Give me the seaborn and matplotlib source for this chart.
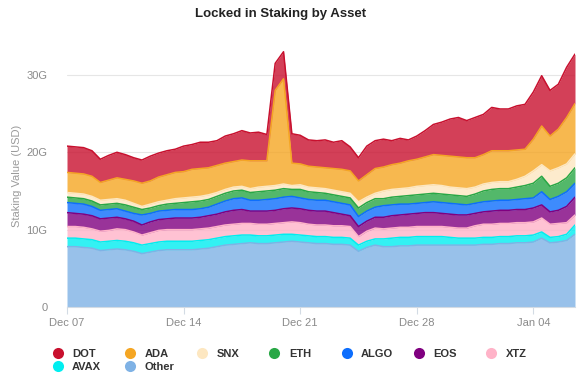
import numpy as np
import pandas as pd
import matplotlib
matplotlib.use('Agg')
import matplotlib.pyplot as plt
import matplotlib.dates as mdates
from matplotlib.lines import Line2D
import seaborn as sns

# ──────────────────────────────────────────────────────────────────────
# Data (USD billions, one reading every 12 hours from Dec 07)
# ──────────────────────────────────────────────────────────────────────
start_date = '2020-12-07'
n_points = 62

other = [7.8, 7.8, 7.7, 7.6, 7.3, 7.4, 7.5, 7.4, 7.2, 6.9, 7.1, 7.3, 7.4, 7.4, 7.4, 7.4,
         7.5, 7.6, 7.8, 8.0, 8.1, 8.2, 8.3, 8.2, 8.2, 8.3, 8.4, 8.5, 8.4, 8.3, 8.2, 8.2,
         8.1, 8.1, 8.0, 7.2, 7.7, 8.0, 7.8, 7.8, 7.9, 7.9, 8.0, 8.0, 8.0, 8.0, 8.0, 8.0,
         8.0, 8.0, 8.1, 8.1, 8.2, 8.2, 8.3, 8.3, 8.4, 8.9, 8.3, 8.4, 8.6, 9.4]
avax = [1.1, 1.1, 1.1, 1.1, 1.1, 1.1, 1.1, 1.1, 1.1, 1.1, 1.1, 1.1, 1.1, 1.1, 1.1, 1.1,
        1.1, 1.1, 1.1, 1.1, 1.1, 1.1, 1.0, 1.0, 1.0, 1.0, 1.0, 0.9, 0.9, 0.9, 0.9, 0.9,
        0.9, 0.9, 0.9, 0.8, 0.8, 0.8, 1.0, 1.1, 1.1, 1.1, 1.1, 1.1, 1.1, 1.1, 1.0, 0.9,
        0.9, 0.9, 0.9, 0.9, 0.9, 0.9, 0.9, 0.9, 0.9, 0.8, 0.7, 0.7, 0.8, 1.2]
xtz = [1.5, 1.5, 1.5, 1.4, 1.4, 1.4, 1.5, 1.5, 1.4, 1.3, 1.4, 1.5, 1.5, 1.5, 1.5, 1.5,
       1.5, 1.5, 1.5, 1.5, 1.5, 1.5, 1.5, 1.5, 1.5, 1.5, 1.5, 1.6, 1.6, 1.5, 1.5, 1.5,
       1.5, 1.5, 1.5, 1.1, 1.3, 1.4, 1.3, 1.3, 1.3, 1.3, 1.3, 1.3, 1.3, 1.3, 1.3, 1.3,
       1.3, 1.6, 1.7, 1.7, 1.7, 1.7, 1.7, 1.7, 1.7, 1.8, 1.7, 1.7, 1.5, 1.3]
eos = [1.8, 1.7, 1.7, 1.7, 1.6, 1.6, 1.5, 1.4, 1.4, 1.3, 1.4, 1.4, 1.4, 1.5, 1.5, 1.5,
       1.5, 1.6, 1.6, 1.7, 1.8, 1.8, 1.6, 1.7, 1.7, 1.7, 1.8, 1.8, 1.8, 1.8, 1.8, 1.8,
       1.7, 1.5, 1.4, 1.3, 1.3, 1.4, 1.5, 1.6, 1.6, 1.7, 1.7, 1.8, 1.8, 1.7, 1.7, 1.7,
       1.7, 1.6, 1.6, 1.7, 1.7, 1.7, 1.7, 1.7, 1.8, 1.7, 1.6, 1.7, 2.1, 2.3]
algo = [1.3, 1.3, 1.3, 1.2, 1.1, 1.1, 1.1, 1.0, 1.0, 1.3, 1.1, 1.1, 1.1, 1.1, 1.1, 1.1,
        1.1, 1.1, 1.3, 1.4, 1.5, 1.5, 1.4, 1.4, 1.5, 1.5, 1.5, 1.5, 1.4, 1.4, 1.4, 1.4,
        1.4, 1.4, 1.4, 1.3, 1.3, 1.3, 1.5, 1.4, 1.4, 1.3, 1.3, 1.3, 1.4, 1.4, 1.4, 1.4,
        1.3, 1.3, 1.3, 1.3, 1.3, 1.3, 1.3, 1.4, 1.3, 1.7, 1.6, 1.8, 1.9, 1.8]
eth = [0.7, 0.7, 0.7, 0.7, 0.7, 0.7, 0.7, 0.8, 0.8, 0.7, 0.7, 0.7, 0.8, 0.8, 0.9, 1.0,
       1.0, 1.0, 1.0, 1.0, 1.0, 1.0, 1.0, 1.1, 1.1, 1.1, 1.1, 0.9, 1.1, 1.0, 1.0, 0.9,
       0.9, 0.9, 0.9, 1.1, 1.1, 1.1, 0.9, 1.0, 1.0, 1.1, 1.1, 1.1, 1.1, 1.1, 1.1, 1.1,
       1.1, 1.2, 1.4, 1.5, 1.5, 1.5, 1.6, 1.7, 1.9, 2.0, 1.7, 1.7, 1.8, 2.0]
snx = [0.6, 0.6, 0.6, 0.6, 0.6, 0.6, 0.6, 0.6, 0.5, 0.4, 0.5, 0.5, 0.5, 0.6, 0.6, 0.6,
       0.6, 0.6, 0.5, 0.5, 0.5, 0.5, 0.5, 0.6, 0.6, 0.6, 0.6, 0.5, 0.6, 0.6, 0.6, 0.6,
       0.6, 0.6, 0.6, 0.8, 0.7, 0.7, 1.0, 1.0, 1.0, 1.0, 1.1, 1.1, 1.1, 1.1, 1.0, 1.0,
       1.0, 0.9, 0.9, 0.9, 0.9, 0.9, 1.0, 1.2, 1.6, 1.5, 2.0, 2.0, 1.8, 1.8]
ada = [2.6, 2.6, 2.6, 2.6, 2.3, 2.5, 2.7, 2.7, 2.9, 3.0, 3.0, 3.2, 3.3, 3.4, 3.4, 3.6,
       3.6, 3.5, 3.5, 3.4, 3.3, 3.4, 3.6, 3.4, 3.3, 12.3, 13.6, 2.9, 2.7, 2.7, 2.7, 2.7,
       2.8, 2.9, 2.9, 2.7, 2.9, 3.2, 3.1, 3.2, 3.3, 3.5, 3.5, 3.7, 3.9, 3.9, 4.0, 4.0,
       4.0, 3.8, 3.8, 4.1, 4.0, 4.0, 3.8, 3.5, 4.1, 5.0, 4.5, 5.0, 6.0, 6.5]
dot = [3.4, 3.4, 3.4, 3.3, 3.0, 3.2, 3.3, 3.2, 3.0, 3.0, 3.2, 3.1, 3.1, 3.0, 3.3, 3.2,
       3.4, 3.3, 3.2, 3.5, 3.6, 3.8, 3.6, 3.7, 3.4, 3.5, 3.5, 3.8, 3.7, 3.4, 3.4, 3.6,
       3.4, 3.7, 3.1, 3.0, 3.7, 3.6, 3.6, 3.1, 3.2, 2.7, 3.0, 3.4, 3.9, 4.3, 4.8, 5.1,
       4.8, 5.2, 5.2, 5.6, 5.4, 5.4, 5.7, 5.8, 6.1, 6.5, 5.9, 5.8, 6.5, 6.4]

# stacking order, bottom to top
assets = ['Other', 'AVAX', 'XTZ', 'EOS', 'ALGO', 'ETH', 'SNX', 'ADA', 'DOT']
series = [other, avax, xtz, eos, algo, eth, snx, ada, dot]

palette = {
    'DOT': '#c8102e',
    'ADA': '#f5a623',
    'SNX': '#fde7c1',
    'ETH': '#28a745',
    'ALGO': '#0d6efd',
    'EOS': '#800080',
    'XTZ': '#ffb3c8',
    'AVAX': '#00eef0',
    'Other': '#7fb2e5',
}

# legend order as in the reference (two rows)
legend_rows = [['DOT', 'ADA', 'SNX', 'ETH', 'ALGO', 'EOS', 'XTZ'],
               ['AVAX', 'Other']]

# ──────────────────────────────────────────────────────────────────────
# Build frames
# ──────────────────────────────────────────────────────────────────────
dates = pd.date_range(start_date, periods=n_points, freq='12h')
values = np.array(series)
tops = np.cumsum(values, axis=0)

long_df = pd.concat([
    pd.DataFrame({'date': dates, 'top': tops[i], 'asset': a})
    for i, a in enumerate(assets)
], ignore_index=True)

# ──────────────────────────────────────────────────────────────────────
# Plot
# ──────────────────────────────────────────────────────────────────────
sns.set_theme(style='white')
plt.rcParams['font.family'] = ['Liberation Sans', 'DejaVu Sans']

W, H = 583, 377
fig = plt.figure(figsize=(W / 100, H / 100), dpi=100)
ax = fig.add_axes([67 / W, 1 - 307 / H, (575 - 67) / W, (307 - 44) / H])

ax.stackplot(dates, values, colors=[palette[a] for a in assets],
             alpha=0.8, linewidth=0, zorder=2)
sns.lineplot(data=long_df, x='date', y='top', hue='asset', hue_order=assets,
             palette=palette, linewidth=1.1, legend=False, ax=ax, zorder=3)

ax.set_xlim(dates[0], dates[-1])
ax.set_ylim(0, 34)
ax.set_yticks([0, 10, 20, 30])
ax.set_yticklabels(['0', '10G', '20G', '30G'])
ax.yaxis.grid(True, color='#e6e6e6', linewidth=0.8, zorder=0)
ax.xaxis.grid(False)
ax.set_axisbelow(True)

ax.set_xticks(pd.to_datetime(['2020-12-07', '2020-12-14', '2020-12-21',
                              '2020-12-28', '2021-01-04']))
ax.xaxis.set_major_formatter(mdates.DateFormatter('%b %d'))

for s in ['top', 'right', 'left']:
    ax.spines[s].set_visible(False)
ax.spines['bottom'].set_color('#d3dbe4')
ax.spines['bottom'].set_linewidth(0.8)

ax.tick_params(axis='x', length=5, width=0.8, color='#d3dbe4', pad=3,
               labelsize=8, labelcolor='#8a8a8a', direction='out', bottom=True)
ax.tick_params(axis='y', length=0, pad=14, labelsize=8, labelcolor='#8a8a8a')

ax.set_xlabel('')
ax.set_ylabel('Staking Value (USD)', fontsize=8, color='#9a9a9a', labelpad=3)

fig.text(0.482, 0.962, 'Locked in Staking by Asset', ha='center', va='center',
         fontsize=9.5, fontweight='bold', color='#222222')

# Legend: one small legend per column so the spacing is even
col_step = 72.3
for i in range(len(legend_rows[0])):
    names = [row[i] for row in legend_rows if i < len(row)]
    handles = [Line2D([], [], marker='o', linestyle='', markersize=8,
                      markerfacecolor=palette[n], markeredgewidth=0)
               for n in names]
    fig.legend(handles, names, loc='upper left',
               bbox_to_anchor=((52 + col_step * i) / W, 1 - 349 / H),
               frameon=False, borderpad=0, borderaxespad=0, handlelength=1.0,
               handletextpad=0.8, labelspacing=0.25,
               prop={'size': 8, 'weight': 'bold'}, labelcolor='#333333')

fig.savefig('out.png', dpi=100)
plt.close(fig)
